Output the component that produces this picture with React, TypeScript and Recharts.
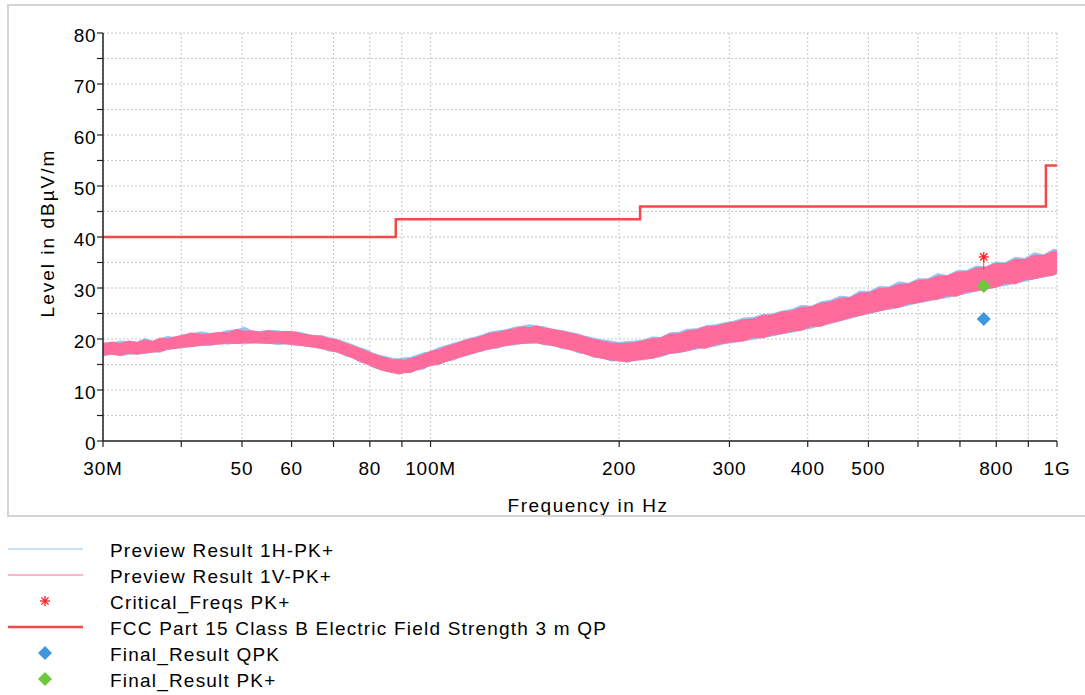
import React from 'react';
import { ComposedChart, Area, Line, Scatter, XAxis, YAxis, CartesianGrid } from 'recharts';

// Frequencies in MHz
const freqs = [
  30, 31, 32, 33, 34, 35, 36, 37, 38, 39,
  40, 41.5, 43, 44.5, 46, 47.5, 49, 50.5, 52, 53.5,
  55, 57, 59, 61, 63, 65, 67, 69, 71, 73,
  75, 77, 79, 81, 83, 85, 87, 89, 91, 93,
  95, 97.5, 100, 103, 106, 109, 112, 115, 118, 121,
  124, 128, 132, 136, 140, 144, 148, 152, 157, 162,
  167, 172, 177, 182, 188, 194, 200, 206, 212, 219,
  226, 233, 241, 249, 257, 266, 275, 285, 295, 305,
  316, 327, 339, 351, 364, 377, 391, 405, 420, 435,
  451, 467, 484, 502, 520, 539, 559, 579, 600, 622,
  645, 668, 692, 717, 743, 770, 798, 827, 857, 888,
  920, 953, 987, 1000,
];

// Preview Result 1V-PK+ (band low / high)
const vLo = [
  16.9, 17.0, 16.8, 17.2, 17.0, 17.3, 17.4, 17.6, 18.0, 18.1,
  18.4, 18.5, 18.8, 18.9, 19.0, 19.2, 19.1, 19.3, 19.2, 19.3,
  19.1, 19.2, 19.0, 18.9, 18.6, 18.5, 18.1, 17.8, 17.4, 16.9,
  16.3, 15.7, 15.1, 14.6, 14.0, 13.7, 13.4, 13.2, 13.4, 13.5,
  13.9, 14.3, 14.8, 15.1, 15.6, 16.1, 16.5, 17.0, 17.3, 17.8,
  18.0, 18.4, 18.7, 19.0, 19.1, 19.3, 19.2, 19.0, 18.7, 18.3,
  17.9, 17.5, 17.0, 16.6, 16.2, 15.9, 15.7, 15.6, 15.8, 16.1,
  16.2, 16.7, 17.2, 17.4, 17.7, 18.3, 18.2, 18.9, 19.2, 19.5,
  19.6, 20.3, 20.2, 20.8, 21.1, 21.5, 21.7, 22.5, 22.5, 23.2,
  23.6, 24.2, 24.6, 25.1, 25.5, 26.0, 26.2, 26.9, 27.1, 27.6,
  27.8, 28.5, 28.4, 29.2, 29.4, 29.9, 30.1, 30.9, 30.8, 31.6,
  31.8, 32.3, 32.5, 33.0,
];
const vHi = [
  19.0, 19.4, 19.1, 19.6, 19.3, 19.8, 19.5, 20.2, 20.0, 20.4,
  20.6, 21.2, 20.9, 21.0, 21.3, 21.2, 21.9, 21.5, 21.6, 21.3,
  21.6, 21.4, 21.5, 21.3, 20.9, 20.7, 20.5, 20.1, 19.8, 19.2,
  18.7, 18.2, 17.6, 17.1, 16.6, 16.3, 15.9, 16.0, 15.8, 16.2,
  16.5, 17.0, 17.6, 17.9, 18.6, 18.9, 19.5, 19.9, 20.2, 20.6,
  21.1, 21.3, 21.7, 22.0, 22.4, 22.2, 22.6, 22.1, 21.9, 21.5,
  21.2, 20.8, 20.4, 19.9, 19.6, 19.2, 19.1, 19.2, 19.3, 19.7,
  20.1, 20.2, 21.0, 21.0, 21.6, 21.8, 22.4, 22.5, 23.0, 23.3,
  23.8, 23.9, 24.6, 24.7, 25.3, 25.5, 26.2, 26.3, 27.0, 27.3,
  28.0, 28.1, 29.0, 29.1, 29.9, 30.0, 30.7, 30.8, 31.5, 31.6,
  32.3, 32.4, 33.1, 33.2, 33.9, 34.1, 34.8, 34.8, 35.6, 35.6,
  36.4, 36.4, 37.2, 37.1,
];

// Preview Result 1H-PK+ (band low / high)
const hLo = [
  16.6, 17.1, 16.7, 17.0, 17.1, 17.1, 17.5, 17.4, 17.9, 18.2,
  18.2, 18.6, 18.7, 18.7, 19.1, 19.0, 19.2, 19.0, 19.3, 19.1,
  19.2, 18.9, 19.1, 18.7, 18.7, 18.3, 18.2, 17.6, 17.5, 16.7,
  16.4, 15.5, 15.2, 14.4, 14.1, 13.6, 13.5, 13.1, 13.5, 13.4,
  14.0, 14.1, 14.9, 14.9, 15.7, 15.9, 16.6, 16.8, 17.4, 17.6,
  18.1, 18.2, 18.8, 18.8, 19.2, 19.1, 19.3, 18.8, 18.8, 18.1,
  18.0, 17.3, 17.1, 16.4, 16.3, 15.7, 15.8, 15.4, 15.9, 15.9,
  16.3, 16.5, 17.1, 17.3, 17.7, 18.0, 18.4, 18.6, 19.1, 19.3,
  19.7, 19.9, 20.4, 20.6, 21.0, 21.3, 21.8, 22.1, 22.7, 23.0,
  23.6, 24.0, 24.6, 25.0, 25.5, 25.8, 26.2, 26.6, 27.1, 27.4,
  27.9, 28.1, 28.6, 28.9, 29.4, 29.7, 30.2, 30.5, 31.0, 31.3,
  31.8, 32.1, 32.6, 32.8,
];
const hHi = [
  19.3, 19.2, 19.6, 19.5, 19.4, 20.1, 19.6, 20.0, 20.5, 20.3,
  20.8, 21.0, 21.4, 21.1, 21.2, 21.7, 21.8, 22.3, 21.5, 21.5,
  21.7, 21.6, 21.3, 21.4, 21.1, 20.6, 20.7, 20.2, 19.9, 19.4,
  18.9, 18.3, 17.9, 17.2, 16.8, 16.5, 16.2, 16.1, 16.3, 16.4,
  16.8, 17.3, 17.5, 18.3, 18.7, 19.2, 19.6, 20.1, 20.4, 20.8,
  21.3, 21.6, 21.8, 22.3, 22.5, 22.8, 22.5, 22.4, 21.8, 21.7,
  21.3, 21.0, 20.5, 20.2, 19.8, 19.6, 19.3, 19.5, 19.6, 19.8,
  20.4, 20.3, 21.2, 21.3, 21.9, 22.0, 22.6, 22.8, 23.2, 23.5,
  24.1, 24.2, 24.8, 24.9, 25.5, 25.8, 26.6, 26.4, 27.3, 27.6,
  28.4, 28.2, 29.4, 29.3, 30.3, 30.2, 31.2, 30.9, 31.8, 31.8,
  32.8, 32.4, 33.4, 33.4, 34.3, 34.1, 35.1, 35.0, 36.0, 35.8,
  36.9, 36.5, 37.6, 37.5,
];

// FCC Part 15 Class B limit (stepped)
const limitFreqs = [30, 88, 88, 216, 216, 960, 960, 1000];
const limitLevels = [40, 40, 43.5, 43.5, 46, 46, 54, 54];

// Markers
const critFreqs = [764];
const critLevels = [36.1];
const critStemLevels = [36.1, 33.6];
const qpkFreqs = [764];
const qpkLevels = [23.9];
const pkFreqs = [764];
const pkLevels = [30.4];

const xTicks = [30, 40, 50, 60, 70, 80, 90, 100, 200, 300, 400, 500, 600, 700, 800, 900, 1000];
const xTickLabels: Record<number, string> = {
  30: '30M', 50: '50', 60: '60', 80: '80', 100: '100M', 200: '200', 300: '300',
  400: '400', 500: '500', 800: '800', 1000: '1G',
};
const yTicks = [0, 5, 10, 15, 20, 25, 30, 35, 40, 45, 50, 55, 60, 65, 70, 75, 80];

const traceData = freqs.map((f, i) => ({ f, v: [vLo[i], vHi[i]], h: [hLo[i], hHi[i]] }));
const limitData = limitFreqs.map((f, i) => ({ f, y: limitLevels[i] }));
const critData = critFreqs.map((f, i) => ({ f, y: critLevels[i] }));
const stemData = critStemLevels.map((y) => ({ f: critFreqs[0], y }));
const qpkData = qpkFreqs.map((f, i) => ({ f, y: qpkLevels[i] }));
const pkData = pkFreqs.map((f, i) => ({ f, y: pkLevels[i] }));

const FONT = '"Liberation Sans", Arial, sans-serif';
const BLUE_TRACE = '#93c5f4';
const PINK_TRACE = '#ff6b9b';
const LIMIT_RED = '#f24a4a';
const QPK_BLUE = '#3f97de';
const PK_GREEN = '#6cc93c';

const Star = (props: any) => {
  const { cx, cy } = props;
  const r = 5;
  return (
    <g stroke="#ff1a1a" strokeWidth={1.3}>
      <line x1={cx - r} y1={cy} x2={cx + r} y2={cy} />
      <line x1={cx} y1={cy - r} x2={cx} y2={cy + r} />
      <line x1={cx - r * 0.72} y1={cy - r * 0.72} x2={cx + r * 0.72} y2={cy + r * 0.72} />
      <line x1={cx - r * 0.72} y1={cy + r * 0.72} x2={cx + r * 0.72} y2={cy - r * 0.72} />
    </g>
  );
};

const makeDiamond = (color: string) => (props: any) => {
  const { cx, cy } = props;
  const r = 7;
  return <polygon points={`${cx},${cy - r} ${cx + r},${cy} ${cx},${cy + r} ${cx - r},${cy}`} fill={color} />;
};

const XTick = (props: any) => {
  const { x, y, payload } = props;
  const label = xTickLabels[payload.value] || '';
  return (
    <text x={x} y={y + 26} textAnchor="middle" fontFamily={FONT} fontSize={19} letterSpacing={0.8} fill="#000">
      {label}
    </text>
  );
};

const YTick = (props: any) => {
  const { x, y, payload } = props;
  const label = payload.value % 10 === 0 ? String(payload.value) : '';
  return (
    <text x={x + 1} y={y + 9} textAnchor="end" fontFamily={FONT} fontSize={19} letterSpacing={0.5} fill="#000">
      {label}
    </text>
  );
};

const legendItems = [
  { label: 'Preview Result 1H-PK+', kind: 'line', color: BLUE_TRACE, w: 1 },
  { label: 'Preview Result 1V-PK+', kind: 'line', color: PINK_TRACE, w: 1 },
  { label: 'Critical_Freqs PK+', kind: 'star', color: '#ff1a1a', w: 1 },
  { label: 'FCC Part 15 Class B Electric Field Strength 3 m QP', kind: 'line', color: LIMIT_RED, w: 2.5 },
  { label: 'Final_Result QPK', kind: 'diamond', color: QPK_BLUE, w: 1 },
  { label: 'Final_Result PK+', kind: 'diamond', color: PK_GREEN, w: 1 },
];

const LegendSymbol = ({ kind, color, w }: any) => (
  <svg width={80} height={20} style={{ position: 'absolute', left: 6, top: -10 }}>
    {kind === 'line' && <line x1={2} y1={10} x2={77} y2={10} stroke={color} strokeWidth={w} />}
    {kind === 'star' && <Star cx={39} cy={10} />}
    {kind === 'diamond' && makeDiamond(color)({ cx: 39, cy: 10 })}
  </svg>
);

export default function App() {
  return (
    <div style={{ position: 'absolute', left: 0, top: 0, width: 1085, height: 695, background: '#fff', overflow: 'hidden' }}>
      <div
        style={{
          position: 'absolute', left: 7, top: 4, width: 1100, height: 509,
          borderTop: '2px solid #d4d4d4', borderLeft: '2px solid #d4d4d4', borderBottom: '2px solid #d4d4d4',
          overflow: 'hidden',
        }}
      >
        <div style={{ position: 'absolute', left: -9, top: -6, width: 1085, height: 530 }}>
          <ComposedChart
            width={1085}
            height={520}
            data={traceData}
            margin={{ top: 33, right: 28, left: 43, bottom: 49 }}
          >
            <CartesianGrid stroke="#c8c8c8" strokeDasharray="2 2" />
            <XAxis
              dataKey="f"
              type="number"
              scale="log"
              domain={[30, 1000]}
              ticks={xTicks}
              interval={0}
              allowDataOverflow
              height={30}
              tick={<XTick />}
              tickSize={6}
              axisLine={{ stroke: '#222', strokeWidth: 1.5 }}
              tickLine={{ stroke: '#222', strokeWidth: 1.2 }}
            />
            <YAxis
              type="number"
              domain={[0, 80]}
              ticks={yTicks}
              interval={0}
              width={60}
              tick={<YTick />}
              tickSize={6}
              tickMargin={2}
              axisLine={{ stroke: '#222', strokeWidth: 1.5 }}
              tickLine={{ stroke: '#222', strokeWidth: 1.2 }}
            />
            <Area
              dataKey="h"
              type="linear"
              stroke={BLUE_TRACE}
              strokeWidth={1}
              fill={BLUE_TRACE}
              fillOpacity={1}
              isAnimationActive={false}
              dot={false}
              activeDot={false}
            />
            <Area
              dataKey="v"
              type="linear"
              stroke={PINK_TRACE}
              strokeWidth={1}
              fill={PINK_TRACE}
              fillOpacity={1}
              isAnimationActive={false}
              dot={false}
              activeDot={false}
            />
            <Line
              data={limitData}
              dataKey="y"
              type="linear"
              stroke={LIMIT_RED}
              strokeWidth={2.5}
              dot={false}
              activeDot={false}
              isAnimationActive={false}
            />
            <Line
              data={stemData}
              dataKey="y"
              type="linear"
              stroke="#ff3355"
              strokeWidth={1}
              dot={false}
              activeDot={false}
              isAnimationActive={false}
            />
            <Scatter data={critData} dataKey="y" shape={<Star />} isAnimationActive={false} />
            <Scatter data={pkData} dataKey="y" shape={makeDiamond(PK_GREEN)} isAnimationActive={false} />
            <Scatter data={qpkData} dataKey="y" shape={makeDiamond(QPK_BLUE)} isAnimationActive={false} />
          </ComposedChart>
          <div
            style={{
              position: 'absolute', left: 388, top: 495, width: 400, textAlign: 'center',
              fontFamily: FONT, fontSize: 19, color: '#000', letterSpacing: 1.5, lineHeight: '22px',
            }}
          >
            Frequency in Hz
          </div>
          <div
            style={{
              position: 'absolute', left: 48 - 120, top: 233 - 12, width: 240, textAlign: 'center',
              fontFamily: FONT, fontSize: 19, color: '#000', lineHeight: '24px', letterSpacing: 2,
              transform: 'rotate(-90deg)', transformOrigin: '50% 50%',
            }}
          >
            Level in dBµV/m
          </div>
        </div>
      </div>
      {legendItems.map((it, i) => (
        <div key={i} style={{ position: 'absolute', left: 0, top: 549 + i * 26, width: 1085, height: 0 }}>
          <LegendSymbol kind={it.kind} color={it.color} w={it.w} />
          <div
            style={{
              position: 'absolute', left: 110, top: -9, whiteSpace: 'nowrap',
              fontFamily: FONT, fontSize: 19, color: '#000', lineHeight: '22px', letterSpacing: 1.2,
            }}
          >
            {it.label}
          </div>
        </div>
      ))}
    </div>
  );
}
